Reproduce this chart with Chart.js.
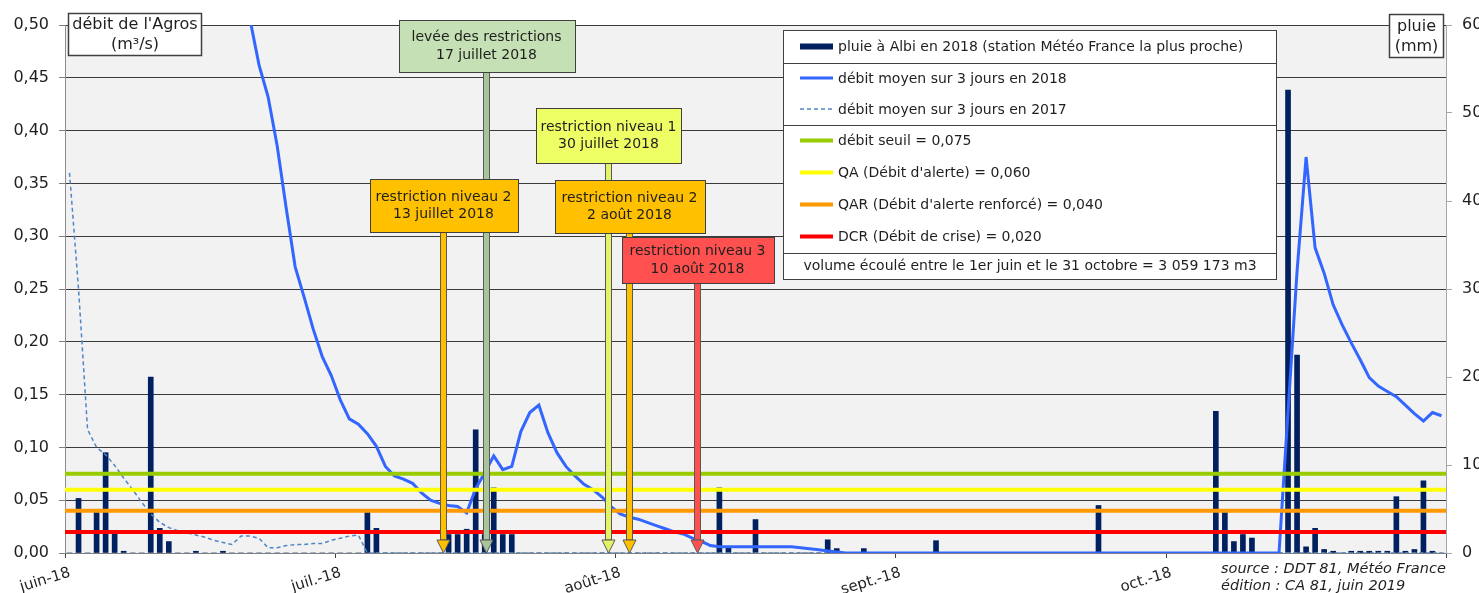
<!DOCTYPE html>
<html lang="fr">
<head>
<meta charset="utf-8">
<title>Débit de l'Agros et pluie à Albi, juin - octobre 2018</title>
<script src="https://cdn.jsdelivr.net/npm/chart.js@4.4.1/dist/chart.umd.min.js"></script>
<style>
	html, body { margin: 0; padding: 0; background: #fff; }
</style>
</head>
<body>
<canvas id="chart" width="1479" height="593"></canvas>
<script>
;(function () {
	"use strict"

	var START_DATE = "2018-06-01"
	var MONTH_LABELS = ["juin-18", "juil.-18", "août-18", "sept.-18", "oct.-18"]
	var MONTH_DAYS = [30, 31, 31, 30, 31]

	// daily rain at Albi, mm (right axis), 1 June -> 31 October
	var RAIN_2018 = [
		0, 6.2, 0, 4.6, 11.4, 2.2, 0.2, 0, 0, 20.0,
		2.8, 1.3, 0, 0, 0.2, 0, 0, 0.2, 0, 0,
		0, 0, 0, 0, 0, 0, 0, 0, 0, 0,
		0, 0, 0, 4.6, 2.8, 0, 0, 0, 0, 0,
		0, 0, 2.1, 2.1, 2.7, 14.0, 2.1, 7.4, 2.1, 2.1,
		0, 0, 0, 0, 0, 0, 0, 0, 0, 0,
		0, 0, 0, 0, 0, 0, 0, 0, 0, 0,
		0, 0, 7.4, 0.6, 0, 0, 3.8, 0, 0, 0,
		0, 0, 0, 0, 1.5, 0.5, 0, 0, 0.5, 0,
		0, 0, 0, 0, 0, 0, 1.4, 0, 0, 0,
		0, 0, 0, 0, 0, 0, 0, 0, 0, 0,
		0, 0, 0, 0, 5.4, 0, 0, 0, 0, 0,
		0, 0, 0, 0, 0, 0, 0, 16.1, 4.6, 1.3,
		2.1, 1.7, 0, 0, 0, 52.6, 22.5, 0.7, 2.8, 0.4,
		0.2, 0, 0.2, 0.2, 0.2, 0.2, 0.2, 6.4, 0.2, 0.4,
		8.2, 0.2, 0,
	]

	// 3-day mean flow 2018, m3/s (left axis); early June is above the 0,50 top
	var FLOW_2018 = [
		1.60, 1.52, 1.46, 1.40, 1.48, 1.42, 1.30, 1.20, 1.12, 1.25,
		1.15, 1.04, 0.95, 0.88, 0.82, 0.76, 0.70, 0.65, 0.60, 0.555,
		0.505, 0.462, 0.432, 0.386, 0.327, 0.271, 0.242, 0.212, 0.186, 0.168,
		0.145, 0.127, 0.122, 0.113, 0.101, 0.082, 0.073, 0.070, 0.066, 0.057,
		0.050, 0.047, 0.045, 0.044, 0.038, 0.061, 0.076, 0.092, 0.079, 0.082,
		0.115, 0.133, 0.140, 0.114, 0.095, 0.082, 0.073, 0.065, 0.060, 0.053,
		0.044, 0.037, 0.034, 0.032, 0.029, 0.026, 0.023, 0.020, 0.018, 0.014,
		0.011, 0.007, 0.006, 0.006, 0.006, 0.006, 0.006, 0.006, 0.006, 0.006,
		0.006, 0.005, 0.004, 0.003, 0.002, 0.001, 0, 0, 0, 0,
		0, 0, 0, 0, 0, 0, 0, 0, 0, 0,
		0, 0, 0, 0, 0, 0, 0, 0, 0, 0,
		0, 0, 0, 0, 0, 0, 0, 0, 0, 0,
		0, 0, 0, 0, 0, 0, 0, 0, 0, 0,
		0, 0, 0, 0, 0, 0.134, 0.267, 0.375, 0.289, 0.265,
		0.235, 0.216, 0.199, 0.183, 0.166, 0.158, 0.153, 0.148, 0.140, 0.132,
		0.125, 0.133, 0.130,
	]

	// 3-day mean flow 2017, m3/s
	var FLOW_2017 = [
		0.36, 0.25, 0.117, 0.100, 0.093, 0.083, 0.071, 0.060, 0.048, 0.037,
		0.029, 0.024, 0.021, 0.019, 0.017, 0.015, 0.012, 0.010, 0.008, 0.016,
		0.016, 0.014, 0.005, 0.005, 0.007, 0.008, 0.008, 0.009, 0.009, 0.012,
		0.014, 0.016, 0.017, 0, 0, 0, 0, 0, 0, 0,
		0, 0, 0, 0, 0, 0, 0, 0, 0, 0,
		0, 0, 0, 0, 0, 0, 0, 0, 0, 0,
		0, 0, 0, 0, 0, 0, 0, 0, 0, 0,
		0, 0, 0, 0, 0, 0, 0, 0, 0, 0,
		0, 0, 0, 0, 0, 0, 0, 0, 0, 0,
		0, 0, 0, 0, 0, 0, 0, 0, 0, 0,
		0, 0, 0, 0, 0, 0, 0, 0, 0, 0,
		0, 0, 0, 0, 0, 0, 0, 0, 0, 0,
		0, 0, 0, 0, 0, 0, 0, 0, 0, 0,
		0, 0, 0, 0, 0, 0, 0, 0, 0, 0,
		0, 0, 0, 0, 0, 0, 0, 0, 0, 0,
		0, 0, 0,
	]

	var THRESHOLD_VALUES = [0.075, 0.06, 0.04, 0.02]
	var THRESHOLD_LABELS = [
		"débit seuil = 0,075",
		"QA (Débit d'alerte) = 0,060",
		"QAR (Débit d'alerte renforcé) = 0,040",
		"DCR (Débit de crise) = 0,020",
	]

	var RAIN_LABEL = "pluie à Albi en 2018 (station Météo France la plus proche)"
	var FLOW18_LABEL = "débit moyen sur 3 jours en 2018"
	var FLOW17_LABEL = "débit moyen sur 3 jours en 2017"
	var VOLUME_TEXT = "volume écoulé entre le 1er juin et le 31 octobre = 3 059 173 m3"

	var EVENT_DATES = ["2018-07-13", "2018-07-17", "2018-07-30", "2018-08-02", "2018-08-10"]
	var EVENT_TEXT = [
		["restriction niveau 2", "13 juillet 2018"],
		["levée des restrictions", "17 juillet 2018"],
		["restriction niveau 1", "30 juillet 2018"],
		["restriction niveau 2", "2 août 2018"],
		["restriction niveau 3", "10 août 2018"],
	]

	// ---- styles / layout ----
	var NAVY = "#002060"
	var BLUE = "#3366ff"
	var STEEL = "#4f86c6"
	var THRESHOLD_COLORS = ["#99cc00", "#ffff00", "#ff9900", "#ff0000"]
	var TEXT = "#1f1f1f"
	var FONT = '"DejaVu Sans", Verdana, sans-serif'
	// callout boxes were placed by hand in the original: small px nudge (dx),
	// box top, width, height in px; fill + stem colour
	var EVENT_STYLE = [
		{ fill: "#ffc000", stem: "#ffc000", dx: -6, top: 179, w: 148, h: 53 },
		{ fill: "#c5e0b4", stem: "#a9c49b", dx: 1, top: 20, w: 176, h: 52 },
		{ fill: "#eeff66", stem: "#e4f26a", dx: 6, top: 108, w: 145, h: 55 },
		{ fill: "#ffc000", stem: "#ffc000", dx: 0, top: 180, w: 150, h: 53 },
		{ fill: "#ff5050", stem: "#ff5050", dx: -4, top: 237, w: 152, h: 46 },
	]

	Chart.defaults.font.family = FONT
	Chart.defaults.color = TEXT

	var monthStarts = [0]
	for (var m = 0; m < MONTH_DAYS.length; m++) monthStarts.push(monthStarts[m] + MONTH_DAYS[m])
	var nDays = monthStarts[monthStarts.length - 1]

	function dayIndex(s) {
		return Math.round((Date.parse(s) - Date.parse(START_DATE)) / 86400000)
	}

	function pts(arr) {
		return arr.map(function (v, i) {
			return { x: i + 0.5, y: v }
		})
	}

	var datasets = [
		{
			type: "bar",
			label: RAIN_LABEL,
			data: pts(RAIN_2018),
			yAxisID: "y1",
			backgroundColor: NAVY,
			barThickness: 5,
			order: 10,
		},
		{
			type: "line",
			label: FLOW17_LABEL,
			data: pts(FLOW_2017),
			yAxisID: "y",
			borderColor: STEEL,
			borderWidth: 1.5,
			borderDash: [4, 3],
			pointRadius: 0,
			tension: 0,
			order: 8,
		},
		{
			type: "line",
			label: FLOW18_LABEL,
			data: pts(FLOW_2018),
			yAxisID: "y",
			borderColor: BLUE,
			borderWidth: 3,
			pointRadius: 0,
			tension: 0,
			order: 6,
		},
	]
	THRESHOLD_VALUES.forEach(function (v, i) {
		datasets.push({
			type: "line",
			label: THRESHOLD_LABELS[i],
			data: [
				{ x: 0, y: v },
				{ x: nDays, y: v },
			],
			yAxisID: "y",
			borderColor: THRESHOLD_COLORS[i],
			borderWidth: 4,
			pointRadius: 0,
			order: 4 - i,
		})
	})

	function box(ctx, x, y, w, h, fill, stroke, lw) {
		ctx.fillStyle = fill
		ctx.fillRect(x, y, w, h)
		ctx.strokeStyle = stroke
		ctx.lineWidth = lw
		ctx.strokeRect(x, y, w, h)
	}

	var background = {
		id: "background",
		beforeDraw: function (chart) {
			var ctx = chart.ctx,
				a = chart.chartArea
			ctx.save()
			ctx.fillStyle = "#fff"
			ctx.fillRect(0, 0, chart.width, chart.height)
			ctx.fillStyle = "#f2f2f2"
			ctx.fillRect(a.left, a.top, a.right - a.left, a.bottom - a.top)
			ctx.restore()
		},
	}

	var overlay = {
		id: "overlay",
		afterDraw: function (chart) {
			var ctx = chart.ctx,
				xs = chart.scales.x,
				ys = chart.scales.y
			var base = ys.getPixelForValue(0)
			ctx.save()

			// restriction arrows: stems first, then the boxes on top
			var px = EVENT_DATES.map(function (d, i) {
				return Math.round(xs.getPixelForValue(dayIndex(d) + 0.5)) + EVENT_STYLE[i].dx
			})
			EVENT_DATES.forEach(function (d, i) {
				var st = EVENT_STYLE[i],
					x = px[i],
					top = st.top + st.h,
					head = base - 13
				ctx.fillStyle = st.stem
				ctx.strokeStyle = "#595959"
				ctx.lineWidth = 1
				ctx.fillRect(x - 2, top, 5, head - top)
				ctx.strokeRect(x - 2.5, top, 6, head - top)
				ctx.beginPath()
				ctx.moveTo(x - 6, head)
				ctx.lineTo(x + 7, head)
				ctx.lineTo(x + 0.5, base)
				ctx.closePath()
				ctx.fill()
				ctx.stroke()
			})
			ctx.font = "14px " + FONT
			ctx.textAlign = "center"
			ctx.textBaseline = "middle"
			EVENT_DATES.forEach(function (d, i) {
				var st = EVENT_STYLE[i],
					x = px[i] + 0.5
				box(ctx, Math.round(x - st.w / 2) + 0.5, st.top + 0.5, st.w, st.h, st.fill, "#404040", 1)
				ctx.fillStyle = TEXT
				ctx.fillText(EVENT_TEXT[i][0], x, st.top + st.h / 2 - 8.5)
				ctx.fillText(EVENT_TEXT[i][1], x, st.top + st.h / 2 + 9)
			})

			// legend box
			var L = { x: 783.5, y: 30.5, w: 493, h: 249 }
			box(ctx, L.x, L.y, L.w, L.h, "#fff", "#404040", 1)
			var rows = [
				{ ds: 0, h: 32, sep: true },
				{ ds: 2, h: 31 },
				{ ds: 1, h: 31, sep: true },
				{ ds: 3, h: 32 },
				{ ds: 4, h: 32 },
				{ ds: 5, h: 32 },
				{ ds: 6, h: 32, sep: true },
				{ text: VOLUME_TEXT, h: 28 },
			]
			var y = L.y
			ctx.textAlign = "left"
			rows.forEach(function (r) {
				var cy = y + r.h / 2
				if (r.text) {
					ctx.textAlign = "center"
					ctx.fillStyle = TEXT
					ctx.fillText(r.text, L.x + L.w / 2, cy)
				} else {
					var ds = chart.data.datasets[r.ds]
					if (ds.type === "bar") {
						ctx.fillStyle = ds.backgroundColor
						ctx.fillRect(800, cy - 3, 33, 6)
					} else {
						ctx.strokeStyle = ds.borderColor
						ctx.lineWidth = ds.borderWidth
						ctx.setLineDash(ds.borderDash || [])
						ctx.beginPath()
						ctx.moveTo(800, cy)
						ctx.lineTo(833, cy)
						ctx.stroke()
						ctx.setLineDash([])
					}
					ctx.fillStyle = TEXT
					ctx.fillText(ds.label, 838, cy + 1)
				}
				y += r.h
				if (r.sep) {
					ctx.strokeStyle = "#404040"
					ctx.lineWidth = 1
					ctx.beginPath()
					ctx.moveTo(L.x, Math.round(y) + 0.5)
					ctx.lineTo(L.x + L.w, Math.round(y) + 0.5)
					ctx.stroke()
				}
			})

			// axis titles
			ctx.font = "16px " + FONT
			ctx.textAlign = "center"
			box(ctx, 68.5, 13.5, 133, 42, "#fff", "#404040", 1.5)
			ctx.fillStyle = TEXT
			ctx.fillText("débit de l'Agros", 135, 25)
			ctx.fillText("(m³/s)", 135, 45)
			box(ctx, 1389.5, 14.5, 54, 43, "#fff", "#404040", 1.5)
			ctx.fillStyle = TEXT
			ctx.fillText("pluie", 1416.5, 27)
			ctx.fillText("(mm)", 1416.5, 47)

			// source
			ctx.font = "italic 14.5px " + FONT
			ctx.textAlign = "left"
			ctx.fillText("source : DDT 81, Météo France", 1221, 569)
			ctx.fillText("édition : CA 81, juin 2019", 1221, 586)
			ctx.restore()
		},
	}

	new Chart(document.getElementById("chart"), {
		type: "bar",
		data: { datasets: datasets },
		options: {
			responsive: false,
			animation: false,
			devicePixelRatio: 1,
			layout: { padding: { top: 25, left: 0, right: 0, bottom: 0 } },
			plugins: { legend: { display: false }, tooltip: { enabled: false } },
			scales: {
				x: {
					type: "linear",
					min: 0,
					max: nDays,
					offset: false,
					afterBuildTicks: function (s) {
						s.ticks = monthStarts.map(function (v) {
							return { value: v }
						})
					},
					afterFit: function (s) {
						s.height = 40
					},
					ticks: {
						autoSkip: false,
						minRotation: 17,
						maxRotation: 17,
						labelOffset: 5,
						padding: 6,
						font: { size: 15 },
						color: TEXT,
						callback: function (v) {
							var k = monthStarts.indexOf(v)
							return k >= 0 && k < MONTH_LABELS.length ? MONTH_LABELS[k] : ""
						},
					},
					grid: { offset: false, drawOnChartArea: false, tickLength: 5, color: "#404040" },
					border: { color: "#7f7f7f" },
				},
				y: {
					position: "left",
					min: 0,
					max: 0.5,
					afterFit: function (s) {
						s.width = 65
					},
					ticks: {
						stepSize: 0.05,
						padding: 10,
						font: { size: 16 },
						color: TEXT,
						callback: function (v) {
							return Number(v).toFixed(2).replace(".", ",")
						},
					},
					grid: { color: "#3a3a3a", tickLength: 6, tickColor: "#7f7f7f" },
					border: { color: "#8c8c8c" },
				},
				y1: {
					position: "right",
					min: 0,
					max: 60,
					afterFit: function (s) {
						s.width = 33
					},
					ticks: { stepSize: 10, padding: 10, font: { size: 16 }, color: TEXT },
					grid: { drawOnChartArea: false, tickLength: 6, color: "#a6a6a6" },
					border: { color: "#a6a6a6" },
				},
			},
		},
		plugins: [background, overlay],
	})
})()
</script>
</body>
</html>
